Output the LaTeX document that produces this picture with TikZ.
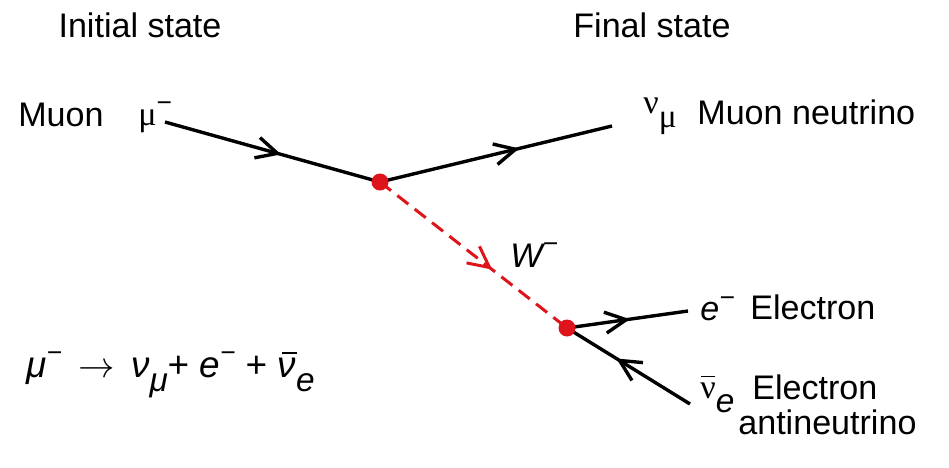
\documentclass[tikz,border=0pt]{standalone}
\usepackage{fontspec}
\setmainfont{Liberation Sans}
\newfontfamily\grk{Liberation Serif}
\usetikzlibrary{arrows.meta,decorations.markings}
\definecolor{wred}{RGB}{222,20,28}
\newcommand\lowtxt[1]{\raisebox{-0.4em}{\fontsize{19}{19}\selectfont #1}}
\newcommand\hightxt[1]{\raisebox{0.42em}{\fontsize{15}{15}\selectfont #1}}
\newcommand\barred[2][0.05em]{\makebox[0pt][l]{\hspace*{#1}\raisebox{0.62em}{\rule{0.4em}{0.055em}}}#2}
\begin{document}
\begin{tikzpicture}[x=0.02cm,y=-0.02cm,
  lbl/.style={font=\fontsize{19.4}{22}\selectfont, inner sep=0pt, align=left},
  fline/.style={black, line width=0.068cm, postaction={decorate},
    decoration={markings, mark=at position #1 with {\arrow{Straight Barb[length=0.42cm,width=0.42cm]}}}},
  fline/.default=0.55,
  wline/.style={wred, line width=0.06cm, dash pattern=on 0.28cm off 0.16cm, postaction={decorate},
    decoration={markings, mark=at position #1 with {\arrow[solid]{Straight Barb[length=0.42cm,width=0.42cm]}}}},
  vtx/.style={circle, fill=wred, minimum size=0.34cm, inner sep=0pt}]
\useasboundingbox (0,0) rectangle (949,467);
% headings
\node[lbl] (hinit) at (140,25) {Initial state};
\node[lbl] (hfinal) at (652,25) {Final state};
% vertices and free ends
\coordinate (v1) at (380,182);
\coordinate (v2) at (567,328);
\coordinate (muin) at (165,122);
\coordinate (nuout) at (612,126);
\coordinate (eout) at (688,311);
\coordinate (nbin) at (690,404);
% lines
\draw[fline=0.54] (muin) -- (v1);
\draw[fline=0.6] (v1) -- (nuout);
\draw[wline=0.6] (v1) -- (v2);
\draw[fline=0.52] (v2) -- (eout);
\draw[fline=0.6] (nbin) -- (v2);
\node[vtx] (dot1) at (v1) {};
\node[vtx] (dot2) at (v2) {};
% labels
\node[lbl, anchor=west] (muon) at (18,115) {Muon};
\node[lbl, anchor=west] (mu) at (138,117) {{\grk μ}\hightxt{−}};
\node[lbl, anchor=west] (numu) at (643,116) {{\grk ν}\lowtxt{\grk μ}};
\node[lbl, anchor=west] (numutxt) at (697,112) {Muon neutrino};
\node[lbl, anchor=west] (wlab) at (510,255) {\itshape W\hightxt{−}};
\node[lbl, anchor=west] (elab) at (700,309) {\itshape e\hightxt{−}};
\node[lbl, anchor=west] (etxt) at (750,307) {Electron};
\node[lbl, anchor=west] (nbar) at (700,394) {{\grk \barred[0.02em]{ν}}\lowtxt{\itshape e}};
\node[lbl, anchor=north west] (nbtxt) at (738,374) {\hspace*{0.28cm}Electron\\[-2pt]antineutrino};
\node[lbl, anchor=west, font=\fontsize{21}{24}\selectfont] (eqn) at (26,375) {\itshape μ\hightxt{−}\;\,$\rightarrow$\;\,ν\lowtxt{μ}+ e\hightxt{−} + \barred[0.12em]{ν}\lowtxt{e}};
\end{tikzpicture}
\end{document}
